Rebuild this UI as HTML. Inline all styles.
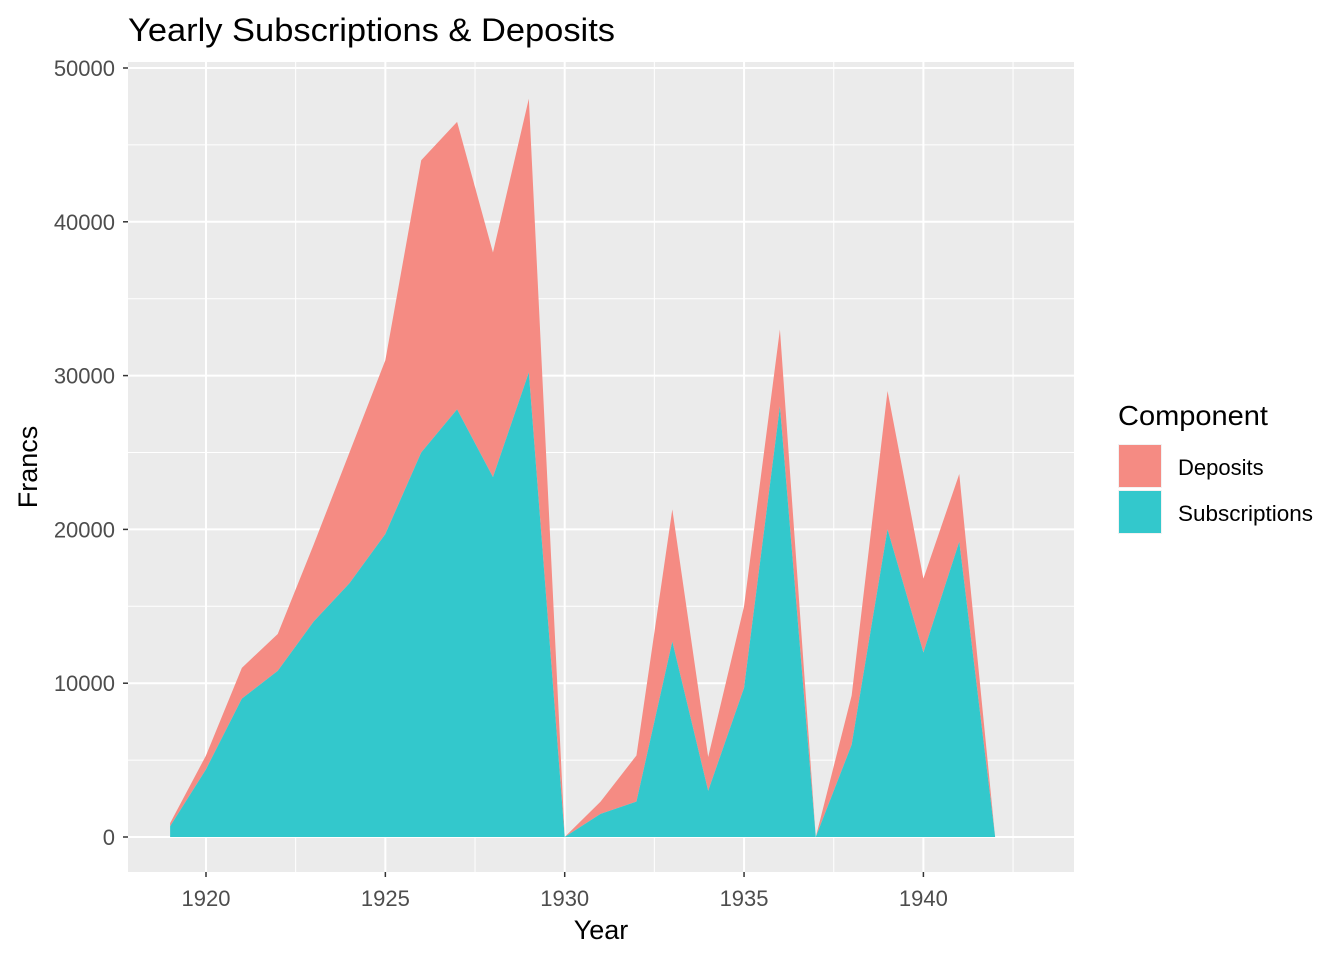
<!DOCTYPE html>
<html><head><meta charset="utf-8"><style>
body{margin:0;background:#fff;font-family:"Liberation Sans",Arial,sans-serif}
</style></head><body>
<svg id="chart" width="1344" height="960" xmlns="http://www.w3.org/2000/svg">
<rect width="1344" height="960" fill="#fff"/>
<g id="panel"></g>
<text x="128" y="41" font-size="32" fill="#000" textLength="487" lengthAdjust="spacingAndGlyphs">Yearly Subscriptions &amp; Deposits</text>
<text x="601" y="939" font-size="27" text-anchor="middle" fill="#000">Year</text>
<text transform="translate(37,467) rotate(-90)" font-size="27" text-anchor="middle" fill="#000">Francs</text>
<g>
<text x="1118" y="425" font-size="28" fill="#000" textLength="150" lengthAdjust="spacingAndGlyphs">Component</text>
<rect x="1118" y="444" width="44" height="44" fill="#f2f2f2"/>
<rect x="1119" y="445" width="42" height="42" fill="#F58B83"/>
<text x="1178" y="475" font-size="22" fill="#000">Deposits</text>
<rect x="1118" y="490" width="44" height="44" fill="#f2f2f2"/>
<rect x="1119" y="491" width="42" height="42" fill="#33C8CC"/>
<text x="1178" y="521" font-size="22" fill="#000" textLength="135" lengthAdjust="spacingAndGlyphs">Subscriptions</text>
</g>
</svg>
<script>
const years=[1919,1920,1921,1922,1923,1924,1925,1926,1927,1928,1929,1930,1931,1932,1933,1934,1935,1936,1937,1938,1939,1940,1941,1942];
const subscriptions=[700,4400,9000,10800,14000,16500,19700,25000,27800,23400,30200,0,1500,2300,12700,3000,9700,28000,0,6000,20000,12000,19200,0];
const deposits=[200,900,2000,2400,5000,8500,11300,19000,18700,14600,17800,0,800,3000,8600,2200,5300,5000,0,3200,9000,4800,4400,0];
const xTicks=[1920,1925,1930,1935,1940];
const yTicks=[0,10000,20000,30000,40000,50000];
const NS="http://www.w3.org/2000/svg";
const L=128,R=1074,T=62,B=872;
const xs=y=>206+(y-1920)*35.87;
const ys=v=>837-v*0.01538;
const g=document.getElementById('panel');
function mk(t,a){const e=document.createElementNS(NS,t);for(const k in a)e.setAttribute(k,a[k]);g.appendChild(e);return e;}
const bg=mk('rect',{x:L,y:T,width:R-L,height:B-T,fill:'#EBEBEB'});


for(let i=0;i<yTicks.length-1;i++){const m=(yTicks[i]+yTicks[i+1])/2;mk('line',{x1:L,x2:R,y1:ys(m),y2:ys(m),stroke:'#fff','stroke-width':1});}
for(let i=0;i<xTicks.length;i++){const m=xTicks[i]+2.5;mk('line',{x1:xs(m),x2:xs(m),y1:T,y2:B,stroke:'#fff','stroke-width':1});}
yTicks.forEach(v=>{
  mk('line',{x1:L,x2:R,y1:ys(v),y2:ys(v),stroke:'#fff','stroke-width':2});
  mk('line',{x1:L-5,x2:L,y1:ys(v),y2:ys(v),stroke:'#333','stroke-width':1.5});
  const t=mk('text',{x:L-13,y:ys(v)+8,'font-size':22,'text-anchor':'end',fill:'#4D4D4D'});t.textContent=v;
  
  
});
xTicks.forEach(v=>{
  mk('line',{x1:xs(v),x2:xs(v),y1:T,y2:B,stroke:'#fff','stroke-width':2});
  mk('line',{x1:xs(v),x2:xs(v),y1:B,y2:B+5,stroke:'#333','stroke-width':1.5});
  const t=mk('text',{x:xs(v),y:B+34,'font-size':22,'text-anchor':'middle',fill:'#4D4D4D'});t.textContent=v;
  
  
});
function area(lo,hi,fill,name){
  let d='M'+years.map((y,i)=>xs(y)+','+ys(hi[i])).join('L');
  for(let i=years.length-1;i>=0;i--)d+='L'+xs(years[i])+','+ys(lo[i]);
  const p=mk('path',{d:d+'Z',fill:fill});
  
  
}
const zero=years.map(()=>0);
const total=subscriptions.map((s,i)=>s+deposits[i]);
area(subscriptions,total,'#F58B83','deposits-area');
area(zero,subscriptions,'#33C8CC','subscriptions-area');
</script>
</body></html>
